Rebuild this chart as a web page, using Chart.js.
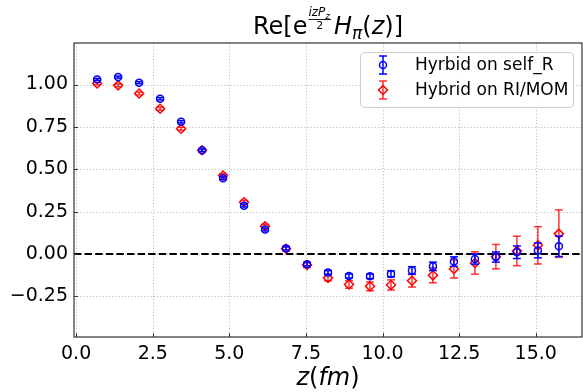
<!DOCTYPE html>
<html>
<head>
<meta charset="utf-8">
<script src="https://cdn.jsdelivr.net/npm/chart.js@4.4.0/dist/chart.umd.min.js"></script>
<style>
  html, body { margin: 0; padding: 0; background: #fff; }
  #wrap { width: 583px; height: 392px; }
</style>
</head>
<body>
<div id="wrap"><canvas id="chart"></canvas></div>
<script>
// z in fm
const zValues = [0.685, 1.37, 2.055, 2.74, 3.425, 4.11, 4.795, 5.48, 6.165, 6.85, 7.535, 8.22,
                 8.905, 9.59, 10.275, 10.96, 11.645, 12.33, 13.015, 13.7, 14.385, 15.07, 15.755];

// Hyrbid on self_R (blue circles)
const selfR    = [1.030, 1.044, 1.011, 0.916, 0.780, 0.612, 0.447, 0.285, 0.144, 0.033, -0.060, -0.109,
                  -0.130, -0.132, -0.118, -0.097, -0.073, -0.045, -0.030, -0.018, 0.010, 0.021, 0.045];
const selfRErr = [0.006, 0.006, 0.006, 0.007, 0.007, 0.007, 0.008, 0.008, 0.008, 0.009, 0.010, 0.011,
                  0.012, 0.013, 0.018, 0.022, 0.025, 0.028, 0.030, 0.030, 0.037, 0.044, 0.060];

// Hybrid on RI/MOM (red diamonds)
const riMom    = [1.006, 0.995, 0.947, 0.857, 0.739, 0.612, 0.463, 0.305, 0.163, 0.031, -0.065, -0.141,
                  -0.180, -0.191, -0.183, -0.158, -0.126, -0.089, -0.053, -0.016, 0.018, 0.051, 0.120];
const riMomErr = [0.008, 0.008, 0.008, 0.009, 0.009, 0.010, 0.010, 0.011, 0.012, 0.013, 0.015, 0.018,
                  0.022, 0.026, 0.030, 0.037, 0.044, 0.053, 0.066, 0.072, 0.087, 0.110, 0.140];

const xTicks = [0, 2.5, 5, 7.5, 10, 12.5, 15];
const yTicks = [-0.25, 0, 0.25, 0.5, 0.75, 1.0];

const FONT = '"DejaVu Sans", sans-serif';
const BLUE = '#0000ff';
const RED = '#ff0000';
const errColors = [BLUE, 'rgba(255,0,0,0.8)'];
const errArrays = [selfRErr, riMomErr];
const PLOT_RIGHT = 582;

function line(ctx, x1, y1, x2, y2) {
  ctx.beginPath(); ctx.moveTo(x1, y1); ctx.lineTo(x2, y2); ctx.stroke();
}

function drawErrSymbol(ctx, x, y, color, style) {
  ctx.save();
  ctx.strokeStyle = color; ctx.lineWidth = 1.5;
  line(ctx, x, y - 9, x, y + 9);
  line(ctx, x - 4, y - 9, x + 4, y - 9);
  line(ctx, x - 4, y + 9, x + 4, y + 9);
  ctx.strokeStyle = style === 'circle' ? BLUE : RED;
  ctx.beginPath();
  if (style === 'circle') {
    ctx.arc(x, y, 3.5, 0, Math.PI * 2);
  } else {
    ctx.moveTo(x, y - 4.5); ctx.lineTo(x + 4.5, y); ctx.lineTo(x, y + 4.5); ctx.lineTo(x - 4.5, y); ctx.closePath();
  }
  ctx.stroke();
  ctx.restore();
}

const decor = {
  id: 'decor',
  afterLayout(chart) {
    // stretch the plot area to the right edge like the original figure
    const x = chart.scales.x, y = chart.scales.y;
    x.right = PLOT_RIGHT; x.width = PLOT_RIGHT - x.left; x.configure();
    chart.chartArea.right = PLOT_RIGHT;
    chart.chartArea.width = PLOT_RIGHT - chart.chartArea.left;
  },
  beforeDatasetsDraw(chart) {
    const {ctx, chartArea: a, scales: {x, y}} = chart;
    ctx.save();
    // dotted grid
    ctx.strokeStyle = '#b0b0b0'; ctx.lineWidth = 0.8; ctx.setLineDash([1.2, 2]);
    xTicks.forEach(v => {
      const px = Math.round(x.getPixelForValue(v)) + 0.5;
      line(ctx, px, a.top, px, a.bottom);
    });
    yTicks.forEach(v => {
      const py = Math.round(y.getPixelForValue(v)) + 0.5;
      line(ctx, a.left, py, a.right, py);
    });
    // dashed zero line
    ctx.setLineDash([7.4, 3.2]); ctx.strokeStyle = '#000'; ctx.lineWidth = 2;
    const y0 = y.getPixelForValue(0);
    line(ctx, a.left, y0, a.right, y0);
    ctx.restore();
  },
  beforeDatasetDraw(chart, args) {
    const {ctx, chartArea: a, scales: {x, y}} = chart;
    const i = args.index;
    const vals = chart.data.datasets[i].data;
    const errs = errArrays[i];
    ctx.save();
    ctx.beginPath(); ctx.rect(a.left, a.top, a.width, a.height); ctx.clip();
    ctx.strokeStyle = errColors[i]; ctx.lineWidth = 1.5;
    vals.forEach((p, k) => {
      const px = x.getPixelForValue(p.x);
      const yt = y.getPixelForValue(p.y + errs[k]);
      const yb = y.getPixelForValue(p.y - errs[k]);
      line(ctx, px, yt, px, yb);
      line(ctx, px - 4, yt, px + 4, yt);
      line(ctx, px - 4, yb, px + 4, yb);
    });
    ctx.restore();
  },
  afterDraw(chart) {
    const {ctx, chartArea: a, scales: {x, y}} = chart;
    ctx.save();
    // spines
    ctx.strokeStyle = '#333'; ctx.lineWidth = 1.2;
    ctx.strokeRect(a.left, a.top, a.right - a.left, a.bottom - a.top);
    // inward ticks
    ctx.lineWidth = 1;
    xTicks.forEach(v => {
      const px = Math.round(x.getPixelForValue(v)) + 0.5;
      line(ctx, px, a.bottom, px, a.bottom - 4);
    });
    yTicks.forEach(v => {
      const py = Math.round(y.getPixelForValue(v)) + 0.5;
      line(ctx, a.left, py, a.left + 4, py);
    });

    // title: Re[e^{izP_z/2} H_pi(z)]
    ctx.fillStyle = '#000'; ctx.textBaseline = 'alphabetic'; ctx.textAlign = 'left';
    const big = '24px ' + FONT, bigI = 'italic 24px ' + FONT;
    const m = (f, t) => { ctx.font = f; return ctx.measureText(t).width; };
    const w1 = m(big, 'Re[e');
    const wIzP = m('italic 12px ' + FONT, 'izP');
    const wZs = m('italic 9px ' + FONT, 'z');
    const fracW = wIzP + wZs + 2;
    const wH = m(bigI, 'H');
    const wPi = m('italic 17px ' + FONT, 'π');
    const wOpen = m(big, '(');
    const wZ = m(bigI, 'z');
    const wClose = m(big, ')]');
    const total = w1 + fracW + 3 + wH + wPi + wOpen + wZ + wClose;
    let tx = (a.left + a.right) / 2 - total / 2;
    const base = 34;
    ctx.font = big; ctx.fillText('Re[e', tx, base); tx += w1;
    ctx.font = 'italic 12px ' + FONT; ctx.fillText('izP', tx + 1, 16);
    ctx.font = 'italic 9px ' + FONT; ctx.fillText('z', tx + 1 + wIzP, 18.5);
    ctx.fillRect(tx + 1, 19, fracW - 1, 0.9);
    ctx.font = '11px ' + FONT;
    ctx.textAlign = 'center'; ctx.fillText('2', tx + fracW / 2 + 0.5, 28.5); ctx.textAlign = 'left';
    tx += fracW + 3;
    ctx.font = bigI; ctx.fillText('H', tx, base); tx += wH;
    ctx.font = 'italic 17px ' + FONT; ctx.fillText('π', tx, base + 5); tx += wPi;
    ctx.font = big; ctx.fillText('(', tx, base); tx += wOpen;
    ctx.font = bigI; ctx.fillText('z', tx, base); tx += wZ;
    ctx.font = big; ctx.fillText(')]', tx, base);

    // x label: z(fm)
    const l1 = m(bigI, 'z'), l2 = m(big, '('), l3 = m(bigI, 'fm'), l4 = m(big, ')');
    let lx = (a.left + a.right) / 2 - (l1 + l2 + l3 + l4) / 2;
    const lb = 385;
    ctx.font = bigI; ctx.fillText('z', lx, lb); lx += l1;
    ctx.font = big; ctx.fillText('(', lx, lb); lx += l2;
    ctx.font = bigI; ctx.fillText('fm', lx, lb); lx += l3;
    ctx.font = big; ctx.fillText(')', lx, lb);

    // legend
    const bx = 360, by = 52, bw = 213, bh = 55;
    ctx.beginPath(); ctx.roundRect(bx + 0.5, by + 0.5, bw, bh, 4);
    ctx.fillStyle = 'rgba(255,255,255,0.85)'; ctx.fill();
    ctx.strokeStyle = '#cccccc'; ctx.lineWidth = 1; ctx.stroke();
    const items = chart.data.datasets;
    const rows = [65, 90];
    items.forEach((ds, k) => {
      drawErrSymbol(ctx, 383, rows[k], errColors[k], ds.pointStyle);
      ctx.fillStyle = '#000'; ctx.font = '17px ' + FONT; ctx.textBaseline = 'middle';
      ctx.fillText(ds.label, 415, rows[k] + 1);
    });
    ctx.restore();
  }
};

new Chart(document.getElementById('chart'), {
  type: 'scatter',
  data: {
    datasets: [
      {
        label: 'Hyrbid on self_R',
        data: zValues.map((z, i) => ({x: z, y: selfR[i]})),
        pointStyle: 'circle',
        radius: 3.5,
        borderWidth: 1.5,
        borderColor: BLUE,
        backgroundColor: 'rgba(0,0,0,0)'
      },
      {
        label: 'Hybrid on RI/MOM',
        data: zValues.map((z, i) => ({x: z, y: riMom[i]})),
        pointStyle: 'rectRot',
        radius: 4.5,
        borderWidth: 1.5,
        borderColor: RED,
        backgroundColor: 'rgba(0,0,0,0)'
      }
    ]
  },
  options: {
    responsive: true,
    maintainAspectRatio: false,
    animation: false,
    devicePixelRatio: 1,
    clip: false,
    layout: { padding: { top: 43, right: 1, left: 0, bottom: 0 } },
    plugins: {
      legend: { display: false },
      title: { display: false },
      tooltip: { enabled: false }
    },
    scales: {
      x: {
        type: 'linear',
        min: -0.07,
        max: 16.51,
        afterBuildTicks: s => { s.ticks = xTicks.map(v => ({value: v})); },
        afterFit: s => { s.height = 55; },
        grid: { display: false, drawTicks: false },
        border: { display: false },
        ticks: {
          padding: 6,
          maxRotation: 0,
          autoSkip: false,
          color: '#000',
          font: { family: FONT, size: 19 },
          callback: v => v.toFixed(1)
        }
      },
      y: {
        min: -0.49,
        max: 1.245,
        afterBuildTicks: s => { s.ticks = yTicks.map(v => ({value: v})); },
        afterFit: s => { s.width = 74; },
        grid: { display: false, drawTicks: false },
        border: { display: false },
        ticks: {
          padding: 6,
          color: '#000',
          font: { family: FONT, size: 19 },
          callback: v => (v < 0 ? '\u2212' : '') + Math.abs(v).toFixed(2)
        }
      }
    }
  },
  plugins: [decor]
});
</script>
</body>
</html>
